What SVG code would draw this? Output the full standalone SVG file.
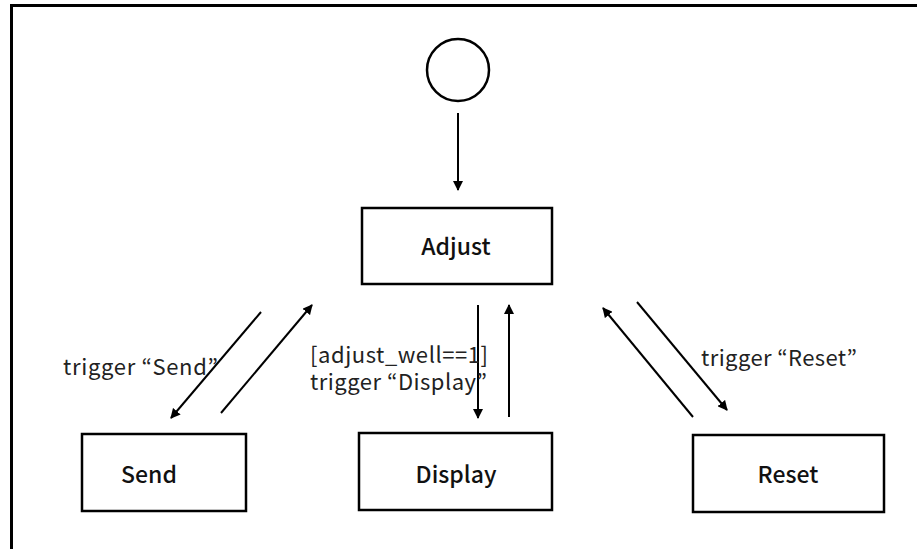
<svg xmlns="http://www.w3.org/2000/svg" width="917" height="549" viewBox="0 0 917 549">
<style>
.frame{fill:none;stroke:#000;stroke-width:3}
.box{fill:#fff;stroke:#000;stroke-width:2.5}
.node-label{font-family:"Noto Sans CJK KR","Noto Sans",sans-serif;font-size:23px;font-weight:500;fill:#111;text-anchor:middle}
.lbl{font-family:"Noto Sans CJK KR","Noto Sans",sans-serif;font-size:22px;fill:#222}
.edge{stroke:#000;stroke-width:2;fill:none;marker-end:url(#arr)}
</style>
<defs>
<marker id="arr" viewBox="0 0 10 10" refX="9" refY="5" markerWidth="5" markerHeight="5" orient="auto" markerUnits="strokeWidth">
<path d="M0,0 L10,5 L0,10 z" fill="#000"/>
</marker>
</defs>
<rect width="917" height="549" fill="#fff"/>
<path class="frame" d="M11.5,549 V5.5 H917"/>
<g id="start">
<circle cx="458" cy="70" r="31" fill="none" stroke="#000" stroke-width="2.5"/>
</g>
<g id="adjust">
<rect class="box" x="362" y="208" width="190" height="76"/>
<text class="node-label" x="456" y="255">Adjust</text>
</g>
<g id="send">
<rect class="box" x="82" y="434" width="164" height="77"/>
<text class="node-label" x="149" y="483">Send</text>
</g>
<g id="display">
<rect class="box" x="359" y="433" width="193" height="77"/>
<text class="node-label" x="456" y="483">Display</text>
</g>
<g id="reset">
<rect class="box" x="693" y="435" width="191" height="77"/>
<text class="node-label" x="788" y="483">Reset</text>
</g>
<g id="connectors">
<line class="edge" x1="458" y1="113" x2="458" y2="190"/>
<line class="edge" x1="261" y1="312" x2="171" y2="418"/>
<line class="edge" x1="221" y1="413" x2="312" y2="305"/>
<line class="edge" x1="478" y1="305" x2="478" y2="418"/>
<line class="edge" x1="509" y1="417" x2="509" y2="305"/>
<line class="edge" x1="693" y1="417" x2="603" y2="308"/>
<line class="edge" x1="637" y1="302" x2="727" y2="410"/>
</g>
<g id="labels">
<text class="lbl" x="63" y="375" textLength="155" lengthAdjust="spacing">trigger “Send”</text>
<text class="lbl" x="310" y="363" textLength="178" lengthAdjust="spacing">[adjust_well==1]</text>
<text class="lbl" x="310" y="390" textLength="177" lengthAdjust="spacing">trigger “Display”</text>
<text class="lbl" x="701" y="366" textLength="156" lengthAdjust="spacing">trigger “Reset”</text>
</g>
</svg>
